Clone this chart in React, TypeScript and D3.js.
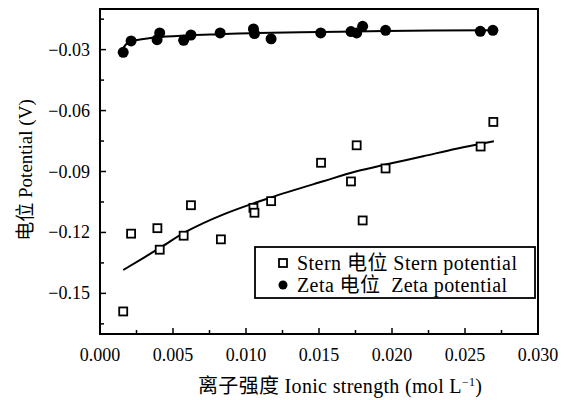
import React from 'react'
import * as d3 from 'd3'

// ionic strength (mol/L) and potentials (V)
const zetaX = [0.00159, 0.00213, 0.00409, 0.00391, 0.00573, 0.00623, 0.00823, 0.01051, 0.01058, 0.01172, 0.01512, 0.01719, 0.01758, 0.01799, 0.01956, 0.02605, 0.02691]
const zetaY = [-0.0313, -0.0257, -0.0218, -0.0251, -0.0254, -0.0228, -0.0218, -0.0198, -0.0221, -0.0247, -0.0218, -0.0211, -0.0218, -0.0185, -0.0205, -0.021, -0.0205]

const sternX = [0.00159, 0.00213, 0.00393, 0.00409, 0.00573, 0.00623, 0.00828, 0.01051, 0.01058, 0.01172, 0.01514, 0.01719, 0.01758, 0.01799, 0.01956, 0.02607, 0.02694]
const sternY = [-0.1589, -0.1206, -0.1179, -0.1285, -0.1216, -0.1066, -0.1234, -0.1079, -0.1103, -0.1046, -0.0857, -0.0949, -0.0771, -0.1141, -0.0885, -0.0777, -0.0656]

// fitted curves
const zetaFitX = [0.00161, 0.00188, 0.00229, 0.00311, 0.00413, 0.00618, 0.00823, 0.01076, 0.01507, 0.01958, 0.02689]
const zetaFitY = [-0.029, -0.0268, -0.0256, -0.0246, -0.0238, -0.0229, -0.0224, -0.0218, -0.0213, -0.0208, -0.0205]

const sternFitX = [0.00159, 0.00413, 0.00596, 0.00846, 0.01165, 0.01529, 0.01758, 0.01956, 0.02213, 0.02441, 0.02698]
const sternFitY = [-0.1385, -0.1275, -0.1194, -0.1111, -0.1029, -0.0948, -0.0899, -0.0866, -0.0825, -0.0788, -0.0751]

const xTicks = [0, 0.005, 0.01, 0.015, 0.02, 0.025, 0.03]
const yTicks = [-0.15, -0.12, -0.09, -0.06, -0.03]
const xMinor = [0.0025, 0.0075, 0.0125, 0.0175, 0.0225, 0.0275]
const yMinor = [-0.165, -0.135, -0.105, -0.075, -0.045, -0.015]

const legendLabels = ['Stern 电位 Stern potential', 'Zeta 电位  Zeta potential']

const FONT = "'Liberation Serif', 'Times New Roman', 'Noto Sans CJK SC', serif"

export default function App() {
  const left = 100
  const right = 538
  const top = 9
  const bottom = 334

  const x = d3.scaleLinear().domain([0, 0.03]).range([left, right])
  const y = d3.scaleLinear().domain([-0.17, -0.01]).range([bottom, top])

  const line = d3
    .line<[number, number]>()
    .x(d => x(d[0]))
    .y(d => y(d[1]))
    .curve(d3.curveCatmullRom)

  const zetaFit = line(zetaFitX.map((v, i) => [v, zetaFitY[i]]))
  const sternFit = line(sternFitX.map((v, i) => [v, sternFitY[i]]))

  const fx = d3.format('.3f')
  const fy = d3.format('.2f')

  return (
    <svg
      width={569}
      height={400}
      style={{ position: 'absolute', left: 0, top: 0, background: '#fff' }}
      fontFamily={FONT}
    >
      {/* fitted lines */}
      <path d={sternFit || ''} fill="none" stroke="#000" strokeWidth={2} />
      <path d={zetaFit || ''} fill="none" stroke="#000" strokeWidth={2} />

      {/* stern squares */}
      {sternX.map((v, i) => (
        <rect
          key={'s' + i}
          x={x(v) - 4}
          y={y(sternY[i]) - 4}
          width={8}
          height={8}
          fill="#fff"
          stroke="#000"
          strokeWidth={1.8}
        />
      ))}

      {/* zeta dots */}
      {zetaX.map((v, i) => (
        <circle key={'z' + i} cx={x(v)} cy={y(zetaY[i])} r={5.5} fill="#000" />
      ))}

      {/* frame */}
      <rect
        x={left}
        y={top}
        width={right - left}
        height={bottom - top}
        fill="none"
        stroke="#000"
        strokeWidth={2}
      />

      {/* x ticks */}
      {xTicks.map(t => (
        <g key={'xt' + t}>
          <line x1={x(t)} x2={x(t)} y1={bottom} y2={bottom - 6} stroke="#000" strokeWidth={1.5} />
          <text x={x(t)} y={361} textAnchor="middle" fontSize={18}>
            {fx(t)}
          </text>
        </g>
      ))}
      {xMinor.map(t => (
        <line key={'xm' + t} x1={x(t)} x2={x(t)} y1={bottom} y2={bottom - 4} stroke="#000" strokeWidth={1.5} />
      ))}

      {/* y ticks */}
      {yTicks.map(t => (
        <g key={'yt' + t}>
          <line x1={left} x2={left + 6} y1={y(t)} y2={y(t)} stroke="#000" strokeWidth={1.5} />
          <text x={90} y={y(t) + 6} textAnchor="end" fontSize={18}>
            {fy(t)}
          </text>
        </g>
      ))}
      {yMinor.map(t => (
        <line key={'ym' + t} x1={left} x2={left + 4} y1={y(t)} y2={y(t)} stroke="#000" strokeWidth={1.5} />
      ))}

      {/* axis titles */}
      <text x={198} y={393} fontSize={20} textLength={284} lengthAdjust="spacing">
        离子强度 Ionic strength (mol L<tspan dy={-7} fontSize={12}>−1</tspan>
        <tspan dy={7}>)</tspan>
      </text>
      <text transform="translate(32,170) rotate(-90)" textAnchor="middle" fontSize={19}>
        电位 Potential (V)
      </text>

      {/* legend */}
      <rect x={255} y={247} width={280} height={51} fill="#fff" stroke="#000" strokeWidth={1.8} />
      <rect x={279} y={259} width={8} height={8} fill="#fff" stroke="#000" strokeWidth={1.8} />
      <circle cx={283} cy={285} r={4.5} fill="#000" />
      <text x={297} y={270} fontSize={20} textLength={220} lengthAdjust="spacing">
        {legendLabels[0]}
      </text>
      <text x={297} y={292} fontSize={20} textLength={210} lengthAdjust="spacing" style={{ whiteSpace: 'pre' }}>
        {legendLabels[1]}
      </text>
    </svg>
  )
}
